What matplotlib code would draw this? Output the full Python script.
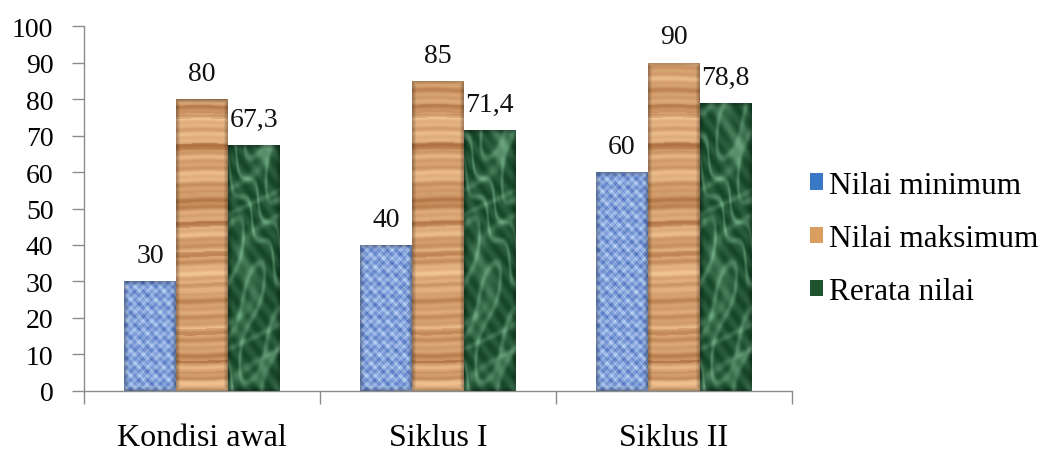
import numpy as np
import matplotlib
matplotlib.use("Agg")
import matplotlib.pyplot as plt
from matplotlib.patches import Patch

categories = ["Kondisi awal", "Siklus I", "Siklus II"]
series_names = ["Nilai minimum", "Nilai maksimum", "Rerata nilai"]
nilai_minimum = [30, 40, 60]
nilai_maksimum = [80, 85, 90]
rerata_nilai = [67.3, 71.4, 78.8]
value_labels = [["30", "40", "60"], ["80", "85", "90"], ["67,3", "71,4", "78,8"]]
y_ticks = [0, 10, 20, 30, 40, 50, 60, 70, 80, 90, 100]

plt.rcParams["font.family"] = ["Liberation Serif", "DejaVu Serif"]

BASE = [(0.36, 0.55, 0.85), (0.84, 0.58, 0.36), (0.10, 0.34, 0.18)]
LEGEND_COLORS = [(0.22, 0.47, 0.78), (0.86, 0.62, 0.38), (0.12, 0.32, 0.18)]


def texture(kind, w, h):
    """Deterministic procedural surface for a bar of w x h pixels."""
    x = np.arange(w)[None, :].astype(float)
    y = np.arange(h)[:, None].astype(float)
    if kind == 0:  # woven blue cloth
        v = (0.55 + 0.22 * np.sin(x * 0.75) * np.sin(y * 0.75)
             + 0.18 * np.sin(x * 0.29 + y * 0.41) * np.sin(y * 0.17 - x * 0.23)
             + 0.10 * np.sin(x * 1.9 + 0.7) * np.sin(y * 1.6))
        lo, hi = np.array([0.20, 0.36, 0.70]), np.array([0.80, 0.88, 0.99])
    elif kind == 1:  # wood grain, mostly horizontal bands
        yy = y + 0.8 * np.sin(x * 0.07 + y * 0.011)
        v = (0.64 + 0.12 * np.sin(yy * 0.33) + 0.09 * np.sin(yy * 0.81 + 1.3)
             + 0.10 * np.sin(yy * 0.123 + 0.4) + 0.06 * np.sin(yy * 0.047 + 2.2)
             - 0.22 * (np.sin(yy * 0.205 + 2.0) * np.sin(yy * 0.031) > 0.75)
             - 0.12 * (np.sin(yy * 0.071 + 0.5) > 0.96))
        lo, hi = np.array([0.62, 0.36, 0.17]), np.array([0.97, 0.79, 0.60])
    else:  # green marble
        t = x * 0.09 + y * 0.04 + 2.4 * np.sin(y * 0.027 + x * 0.05) + 1.1 * np.sin(x * 0.17 - y * 0.06)
        vein = np.abs(np.sin(t)) ** 8
        t2 = x * 0.06 - y * 0.05 + 1.8 * np.sin(y * 0.045 + 1.0)
        vein2 = np.abs(np.sin(t2)) ** 12
        v = 0.18 + 0.35 * vein + 0.25 * vein2 + 0.08 * np.sin(x * 0.4 + y * 0.3)
        lo, hi = np.array([0.04, 0.22, 0.11]), np.array([0.50, 0.74, 0.58])
    v = np.clip(v, 0, 1)[..., None]
    img = lo + (hi - lo) * v
    # darker bevel towards the edges
    ex = np.minimum(x, w - 1 - x) / 4.0
    ey = np.minimum(y, h - 1 - y) / 4.0
    edge = np.clip(np.minimum(ex, ey), 0, 1)[..., None]
    return img * (0.72 + 0.28 * edge)


fig = plt.figure(figsize=(10.5, 4.52), dpi=100)
ax = fig.add_axes([0.080, 0.133, 0.674, 0.807])

n = len(categories)
bar_w = 0.22
offsets = [-bar_w, 0.0, bar_w]
all_series = [nilai_minimum, nilai_maksimum, rerata_nilai]

for s, vals in enumerate(all_series):
    for i, v in enumerate(vals):
        xc = i + offsets[s]
        bar = ax.bar(xc, v, width=bar_w, color=BASE[s], edgecolor="none", zorder=2)[0]
        w_px, h_px = 52, max(int(v * 3.65), 4)
        img = texture(s, w_px, h_px)
        im = ax.imshow(img, extent=(xc - bar_w / 2, xc + bar_w / 2, 0, v),
                       origin="lower", aspect="auto", zorder=3, interpolation="bilinear")
        im.set_clip_path(bar)
        ax.text(xc, v + 3.6, value_labels[s][i], ha="center", va="bottom",
                fontsize=20, color="#111111", zorder=4)

ax.set_xlim(-0.5, n - 0.5)
ax.set_ylim(0, 100)
ax.set_yticks(y_ticks)
ax.set_yticklabels([str(t) for t in y_ticks], fontsize=20)
ax.tick_params(axis="y", direction="out", length=9, width=1, color="#8c8c8c", pad=13)

ax.set_xticks([i - 0.5 for i in range(n + 1)])
ax.set_xticklabels([])
ax.set_xticks(range(n), minor=True)
ax.set_xticklabels(categories, minor=True, fontsize=23)
ax.tick_params(axis="x", which="major", direction="out", length=9, width=1, color="#8c8c8c")
ax.tick_params(axis="x", which="minor", length=0, pad=23)

for side in ("top", "right"):
    ax.spines[side].set_visible(False)
for side in ("left", "bottom"):
    ax.spines[side].set_color("#8c8c8c")
    ax.spines[side].set_linewidth(1)

handles = [Patch(facecolor=LEGEND_COLORS[k], edgecolor="none") for k in range(3)]
fig.legend(handles, series_names, loc="center left", bbox_to_anchor=(0.771, 0.47),
           frameon=False, fontsize=22.5, handlelength=0.42, handleheight=0.42,
           handletextpad=0.2, labelspacing=0.78, borderaxespad=0.0, borderpad=0.0)

fig.savefig("out.png", dpi=100, facecolor="white")
